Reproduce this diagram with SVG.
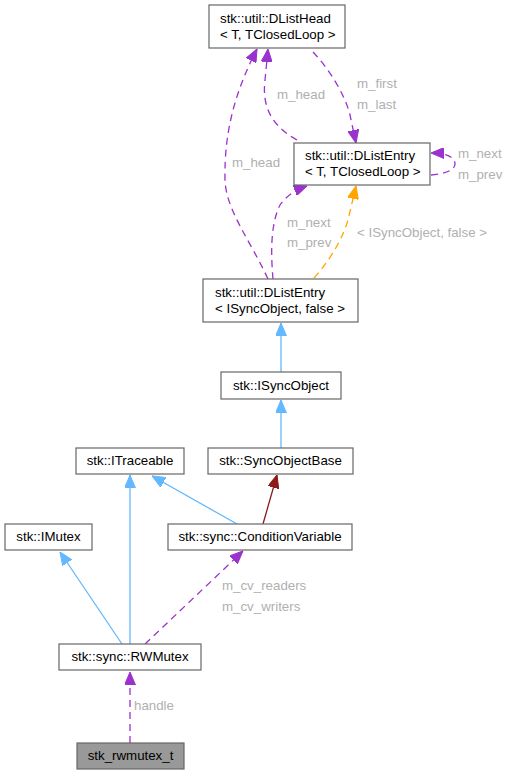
<svg xmlns="http://www.w3.org/2000/svg" width="510" height="775" viewBox="0 0 510 775">
<style>
.box{fill:#ffffff;stroke:#666666;stroke-width:1.2}
.boxg{fill:#999999;stroke:#666666;stroke-width:1.2}
text{font-family:"Liberation Sans",Arial,sans-serif;font-size:13.3px;fill:#000000}
.lbl{fill:#b0b0b0}
.blue{fill:none;stroke:#63b8ff;stroke-width:1.3}
.purple{fill:none;stroke:#9a32cd;stroke-width:1.3;stroke-dasharray:7,5}
.orange{fill:none;stroke:#ffa500;stroke-width:1.3;stroke-dasharray:7,5}
.red{fill:none;stroke:#8b1a1a;stroke-width:1.3}
</style>
<defs>
<marker id="aBlue" markerUnits="userSpaceOnUse" markerWidth="13" markerHeight="11" refX="13" refY="5.5" orient="auto"><path d="M0,0 L13,5.5 L0,11 z" fill="#63b8ff" stroke="#63b8ff"/></marker>
<marker id="aPurple" markerUnits="userSpaceOnUse" markerWidth="13" markerHeight="11" refX="13" refY="5.5" orient="auto"><path d="M0,0 L13,5.5 L0,11 z" fill="#9a32cd" stroke="#9a32cd"/></marker>
<marker id="aOrange" markerUnits="userSpaceOnUse" markerWidth="13" markerHeight="11" refX="13" refY="5.5" orient="auto"><path d="M0,0 L13,5.5 L0,11 z" fill="#ffa500" stroke="#ffa500"/></marker>
<marker id="aRed" markerUnits="userSpaceOnUse" markerWidth="13" markerHeight="11" refX="13" refY="5.5" orient="auto"><path d="M0,0 L13,5.5 L0,11 z" fill="#8b1a1a" stroke="#8b1a1a"/></marker>
</defs>

<g id="edges">
<path class="purple" d="M130,743 L130,672" marker-end="url(#aPurple)"/>
<text class="lbl" x="134" y="710">handle</text>
<path class="blue" d="M122,644 L60,552" marker-end="url(#aBlue)"/>
<path class="blue" d="M130,644 L130,475" marker-end="url(#aBlue)"/>
<path class="purple" d="M145,644 L243,551" marker-end="url(#aPurple)"/>
<text class="lbl" x="222" y="590">m_cv_readers</text>
<text class="lbl" x="222" y="611">m_cv_writers</text>
<path class="blue" d="M237,524 L152,476" marker-end="url(#aBlue)"/>
<path class="red" d="M263,524 L277,475" marker-end="url(#aRed)"/>
<path class="blue" d="M281,448 L281,400" marker-end="url(#aBlue)"/>
<path class="blue" d="M281,372 L281,323" marker-end="url(#aBlue)"/>
<path class="purple" d="M268,279 C250,240 226,210 225,180 C224,130 236,90 257,49" marker-end="url(#aPurple)"/>
<text class="lbl" x="232" y="167">m_head</text>
<path class="purple" d="M297,140 C270,125 262,105 265,80 L268,49" marker-end="url(#aPurple)"/>
<text class="lbl" x="277" y="99">m_head</text>
<path class="purple" d="M313,52 C330,70 345,95 350,115 L356,143" marker-end="url(#aPurple)"/>
<text class="lbl" x="357" y="88">m_first</text>
<text class="lbl" x="357" y="109">m_last</text>
<path class="purple" d="M431,175 C445,174 455,170 455,164 C455,157 446,153 431,153" marker-end="url(#aPurple)"/>
<text class="lbl" x="458" y="158">m_next</text>
<text class="lbl" x="458" y="179">m_prev</text>
<path class="purple" d="M273,279 C271,255 270,225 280,205 C287,195 296,190 307,186" marker-end="url(#aPurple)"/>
<text class="lbl" x="287" y="227">m_next</text>
<text class="lbl" x="287" y="247">m_prev</text>
<path class="orange" d="M314,278 C330,260 342,240 348,220 L356,186" marker-end="url(#aOrange)"/>
<text class="lbl" x="357" y="237">&lt; ISyncObject, false &gt;</text>
</g>

<g id="node_dlisthead">
<rect class="box" x="209" y="5" width="136" height="43"/>
<text x="220" y="23">stk::util::DListHead</text>
<text x="220" y="39">&lt; T, TClosedLoop &gt;</text>
</g>
<g id="node_dlistentry_t">
<rect class="box" x="294" y="143" width="136" height="42"/>
<text x="305" y="160">stk::util::DListEntry</text>
<text x="305" y="176">&lt; T, TClosedLoop &gt;</text>
</g>
<g id="node_dlistentry_isync">
<rect class="box" x="203" y="279" width="155" height="43"/>
<text x="215" y="297">stk::util::DListEntry</text>
<text x="215" y="313">&lt; ISyncObject, false &gt;</text>
</g>
<g id="node_isyncobject">
<rect class="box" x="221" y="372" width="120" height="27"/>
<text x="281" y="390" text-anchor="middle">stk::ISyncObject</text>
</g>
<g id="node_syncobjectbase">
<rect class="box" x="208" y="448" width="145" height="26"/>
<text x="280.5" y="465" text-anchor="middle">stk::SyncObjectBase</text>
</g>
<g id="node_itraceable">
<rect class="box" x="76" y="448" width="108" height="26"/>
<text x="130" y="465" text-anchor="middle">stk::ITraceable</text>
</g>
<g id="node_imutex">
<rect class="box" x="5" y="524" width="87" height="26"/>
<text x="48.5" y="541" text-anchor="middle">stk::IMutex</text>
</g>
<g id="node_conditionvariable">
<rect class="box" x="168" y="524" width="184" height="26"/>
<text x="260" y="541" text-anchor="middle">stk::sync::ConditionVariable</text>
</g>
<g id="node_rwmutex">
<rect class="box" x="59" y="644" width="142" height="26"/>
<text x="130" y="661" text-anchor="middle">stk::sync::RWMutex</text>
</g>
<g id="node_stk_rwmutex_t">
<rect class="boxg" x="77" y="743" width="107" height="26"/>
<text x="130.5" y="760" text-anchor="middle">stk_rwmutex_t</text>
</g>
</svg>
